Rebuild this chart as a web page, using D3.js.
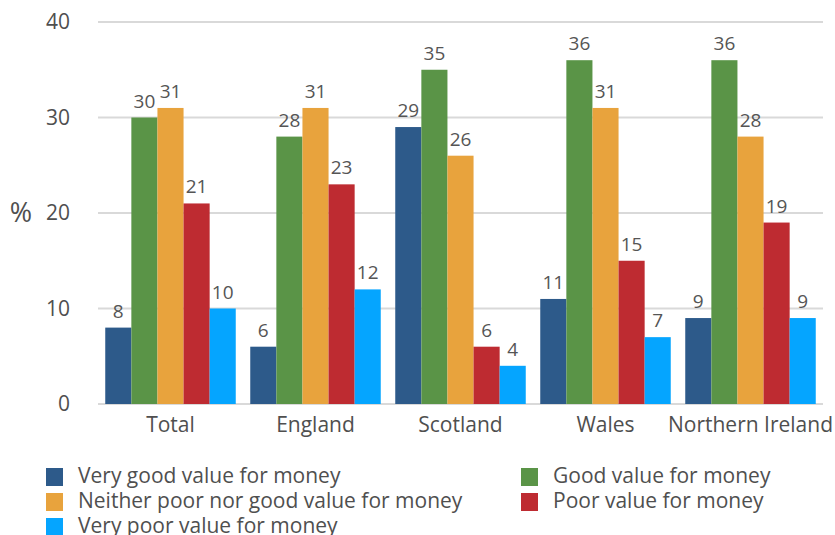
<!DOCTYPE html>
<html>
<head>
<meta charset="utf-8">
<script src="https://cdn.jsdelivr.net/npm/d3@7"></script>
<style>
  html, body { margin: 0; padding: 0; background: #ffffff; }
  svg { display: block; font-family: "Open Sans", "Noto Sans", sans-serif; }
</style>
</head>
<body>
<svg id="chart" width="835" height="535"></svg>
<script>
// Regions shown along the x axis
const regions = ["Total", "England", "Scotland", "Wales", "Northern Ireland"];

// Response categories (one bar per region each)
const responses = [
  "Very good value for money",
  "Good value for money",
  "Neither poor nor good value for money",
  "Poor value for money",
  "Very poor value for money"
];

// Percentages per response, in region order
const veryGood = [8, 6, 29, 11, 9];
const good     = [30, 28, 35, 36, 36];
const neither  = [31, 31, 26, 31, 28];
const poor     = [21, 23, 6, 15, 19];
const veryPoor = [10, 12, 4, 7, 9];

const yTicks = [0, 10, 20, 30, 40];

const colors = ["#2d5a8a", "#5a9447", "#e8a33d", "#be2b31", "#05a5ff"];

const seriesValues = [veryGood, good, neither, poor, veryPoor];

const svg = d3.select("#chart");

const x0 = d3.scaleBand()
  .domain(regions)
  .range([98, 823])
  .paddingInner(0.1)
  .paddingOuter(0.05);

const x1 = d3.scaleBand()
  .domain(responses)
  .range([0, x0.bandwidth()])
  .padding(0);

const y = d3.scaleLinear()
  .domain([0, 40])
  .range([404, 22]);

const color = d3.scaleOrdinal().domain(responses).range(colors);

// Horizontal gridlines
svg.append("g")
  .selectAll("line")
  .data(yTicks)
  .join("line")
  .attr("x1", 98)
  .attr("x2", 823)
  .attr("y1", d => y(d))
  .attr("y2", d => y(d))
  .attr("stroke", "#d9d9d9")
  .attr("stroke-width", 2);

// Y tick labels
svg.append("g")
  .selectAll("text")
  .data(yTicks)
  .join("text")
  .attr("x", 70)
  .attr("y", d => y(d) + 7)
  .attr("text-anchor", "end")
  .attr("font-size", 21)
  .attr("fill", "#4f4f4f")
  .text(d => d);

// Y axis title
svg.append("text")
  .attr("x", 21)
  .attr("y", 222)
  .attr("text-anchor", "middle")
  .attr("font-size", 27)
  .attr("fill", "#4f4f4f")
  .text("%");

// Flatten to one record per bar
const bars = [];
regions.forEach((r, i) => {
  responses.forEach((s, j) => {
    bars.push({ region: r, response: s, value: seriesValues[j][i] });
  });
});

const groups = svg.append("g")
  .selectAll("g")
  .data(regions)
  .join("g")
  .attr("transform", d => `translate(${x0(d)},0)`);

groups.selectAll("rect")
  .data(r => bars.filter(b => b.region === r))
  .join("rect")
  .attr("x", d => x1(d.response))
  .attr("y", d => y(d.value))
  .attr("width", x1.bandwidth())
  .attr("height", d => y(0) - y(d.value))
  .attr("fill", d => color(d.response));

// Value labels above each bar
groups.selectAll("text")
  .data(r => bars.filter(b => b.region === r))
  .join("text")
  .attr("x", d => x1(d.response) + x1.bandwidth() / 2)
  .attr("y", d => y(d.value) - 10)
  .attr("text-anchor", "middle")
  .attr("font-size", 19)
  .attr("fill", "#555555")
  .text(d => d.value);

// Region labels
svg.append("g")
  .selectAll("text")
  .data(regions)
  .join("text")
  .attr("x", d => x0(d) + x0.bandwidth() / 2)
  .attr("y", 432)
  .attr("text-anchor", "middle")
  .attr("font-size", 21)
  .attr("fill", "#4f4f4f")
  .text(d => d);

// Legend: two columns, filled row by row
const legendCols = [46, 521];
const legendRowTop = 468;
const legendRowStep = 25;

const legend = svg.append("g")
  .selectAll("g")
  .data(responses)
  .join("g")
  .attr("transform", (d, i) =>
    `translate(${legendCols[i % 2]},${legendRowTop + Math.floor(i / 2) * legendRowStep})`);

legend.append("rect")
  .attr("width", 17)
  .attr("height", 18)
  .attr("fill", d => color(d));

legend.append("text")
  .attr("x", 32)
  .attr("y", 15)
  .attr("font-size", 21)
  .attr("fill", "#4f4f4f")
  .text(d => d);
</script>
</body>
</html>
